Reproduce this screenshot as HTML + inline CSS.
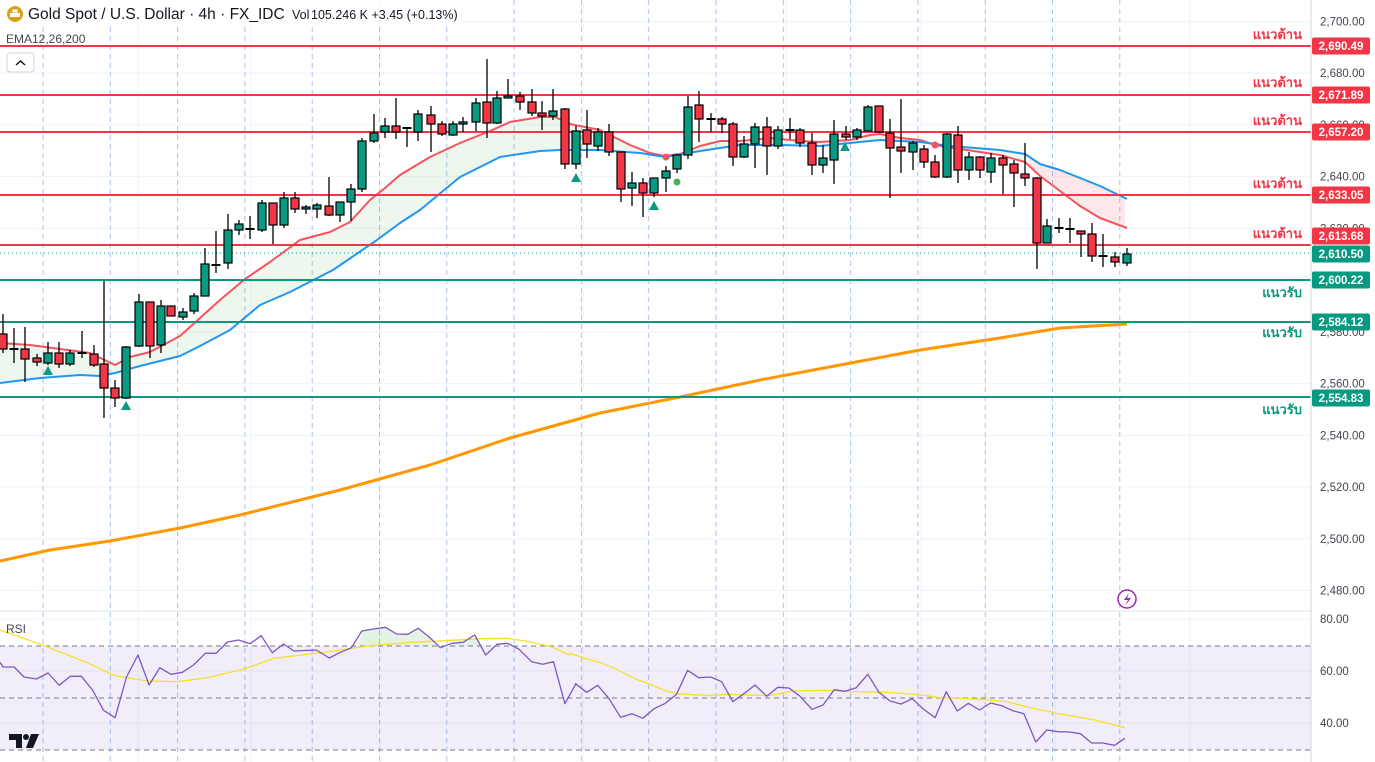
<!DOCTYPE html>
<html><head><meta charset="utf-8"><style>
body{margin:0;background:#fff;width:1375px;height:762px;overflow:hidden;font-family:"Liberation Sans","Noto Sans CJK SC",sans-serif}
svg{position:absolute;left:0;top:0}
</style></head><body>
<svg id="s" width="1375" height="762" xmlns="http://www.w3.org/2000/svg" font-family="Liberation Sans, sans-serif"></svg>
<script>
const S=document.getElementById('s');let h='';
function L(x1,y1,x2,y2,c,w,d){h+=`<line x1="${x1}" y1="${y1}" x2="${x2}" y2="${y2}" stroke="${c}" stroke-width="${w||1}" ${d?`stroke-dasharray="${d}"`:''}/>`;}
for(let p=2700;p>=2480;p-=20){const y=46+(2690.49-p)*2.587;L(0,y,1311,y,'#f0f3fa',1);}
[619,671,723].forEach(y=>L(0,y,1311,y,'#f0f3fa',1));
[138,251,380,583,786,921,1055,1190].forEach(x=>L(x,0,x,762,'#f0f3fa',1));
for(let k=0;k<17;k++){const x=43+67.3*k;L(x,0,x,762,'#a8c4f0',1,'5,4');}
h+=`<rect x="0" y="646" width="1311" height="104" fill="rgba(126,87,194,0.1)"/>`;
[646,698,750].forEach(y=>L(0,y,1311,y,'#787b86',1,'5,4'));
L(0,611,1311,611,'#e0e3eb',1);
const red=[[0,343],[30,345],[60,349],[90,353],[115,365],[130,357],[150,352],[180,336],[200,318],[220,300],[245,279],[270,262],[300,240],[330,232],[350,222],[370,200],[385,188],[400,175],[430,157],[460,143],[490,131],[510,122],[540,117],[555,117],[570,124],[600,130],[630,145],[650,153],[665,156],[680,154],[700,146],[720,141],[740,141],[770,138],[800,141],[820,142],[850,140],[870,135],[880,134],[900,138],[920,140],[935,145],[960,149],[1000,155],[1025,162],[1040,176],[1060,191],[1080,206],[1100,218],[1127,228]];
const blue=[[0,383],[40,378],[80,375],[100,376],[115,373],[140,366],[180,356],[200,346],[230,330],[260,305],[290,292],[333,270],[377,240],[400,223],[420,210],[460,177],[500,157],[540,151],[560,150],[600,150],[640,153],[665,157],[700,151],[740,145],[780,145],[820,146],[850,143],[880,140],[920,142],[950,146],[1000,150],[1025,154],[1040,164],[1060,170],[1080,178],[1100,186],[1127,199]];
function interp(a,x){for(let i=1;i<a.length;i++){if(x<=a[i][0]){const t=(x-a[i-1][0])/(a[i][0]-a[i-1][0]);return a[i-1][1]+t*(a[i][1]-a[i-1][1]);}}return a[a.length-1][1];}
function fill(x0,x1,c){let top=[],bot=[];for(let x=x0;x<=x1;x+=3){top.push(x+','+interp(red,x));bot.unshift(x+','+interp(blue,x));}h+=`<polygon points="${top.join(' ')} ${bot.join(' ')}" fill="${c}"/>`;}
fill(0,1029,'rgba(76,175,80,0.1)');fill(1029,1127,'rgba(242,54,69,0.12)');
const pl=(a,c,w)=>h+=`<polyline points="${a.map(p=>p.join(',')).join(' ')}" fill="none" stroke="${c}" stroke-width="${w}" stroke-linejoin="round"/>`;
pl(red,'#f7525f',2);pl(blue,'#2196f3',2);
pl([[0,561],[50,550],[110,541],[180,528],[240,515],[340,490],[430,465],[510,438],[600,413],[680,397],[760,380],[840,365],[920,350],[1000,338],[1060,328],[1127,324]],'#ff9800',3);
[[46,'#f23645','2,690.49'],[95,'#f23645','2,671.89'],[132,'#f23645','2,657.20'],[195,'#f23645','2,633.05'],[245,'#f23645','2,613.68'],[280,'#089981','2,600.22'],[322,'#089981','2,584.12'],[397,'#089981','2,554.83']].forEach(a=>L(0,a[0],1311,a[0],a[1],2));
L(0,253,1311,253,'#089981',1,'1,3');
const C=[[3,334,349,314,353,'r'],[14,349,349,328,363,'d'],[25,349,359,327,382,'r'],[37,358,362,354,366,'r'],[48,353,363,342,365,'g'],[59,353,364,342,368,'r'],[70,353,364,350,366,'g'],[82,353,353,331,358,'d'],[94,354,365,345,367,'r'],[104,364,388,281,418,'r'],[115,388,398,380,407,'r'],[126,347,398,346,399,'g'],[139,302,346,294,347,'g'],[150,302,346,302,358,'r'],[161,306,345,300,353,'g'],[171,306,316,306,316,'r'],[183,312,317,308,320,'g'],[194,296,311,293,314,'g'],[205,264,296,248,296,'g'],[216,265,265,231,273,'d'],[228,230,263,214,269,'g'],[239,224,230,220,235,'g'],[250,229,229,216,239,'d'],[262,203,230,200,232,'g'],[273,203,225,203,244,'r'],[284,198,225,192,228,'g'],[295,198,209,192,213,'r'],[306,207,209,205,214,'g'],[317,205,209,203,218,'g'],[329,206,215,177,216,'r'],[340,202,215,202,222,'g'],[351,189,202,184,221,'g'],[362,141,189,138,192,'g'],[374,133,141,114,143,'g'],[385,126,132,118,138,'g'],[396,126,132,98,139,'r'],[407,128,128,127,147,'d'],[418,114,132,110,141,'g'],[431,115,124,106,152,'r'],[442,124,134,121,136,'r'],[453,124,135,121,136,'g'],[463,122,124,117,132,'g'],[476,103,122,98,131,'g'],[487,102,123,59,138,'r'],[497,98,123,91,124,'g'],[508,96,98,79,98,'g'],[520,96,102,92,110,'r'],[532,102,113,89,116,'r'],[542,113,116,101,130,'r'],[553,111,116,89,120,'g'],[565,109,164,108,169,'r'],[576,131,164,126,169,'g'],[587,130,144,110,158,'r'],[598,132,146,128,151,'g'],[609,132,152,124,156,'r'],[621,152,189,152,202,'r'],[632,183,188,172,206,'g'],[643,183,193,178,217,'r'],[654,178,193,178,197,'g'],[666,171,178,166,192,'g'],[677,155,169,154,173,'g'],[688,107,155,96,159,'g'],[699,105,119,91,142,'r'],[711,119,119,113,132,'d'],[722,119,124,117,133,'r'],[733,124,157,122,166,'r'],[744,144,157,136,158,'g'],[755,127,144,123,168,'g'],[767,127,146,117,175,'r'],[778,130,146,126,149,'g'],[790,130,130,118,139,'d'],[800,130,143,128,147,'r'],[812,143,165,133,175,'r'],[823,158,165,145,173,'g'],[834,134,160,120,184,'g'],[846,134,137,126,140,'r'],[857,130,137,128,140,'g'],[868,107,131,105,131,'g'],[879,106,132,106,133,'r'],[890,133,148,119,198,'r'],[901,147,151,99,173,'r'],[913,143,152,141,170,'g'],[924,149,162,145,168,'r'],[935,162,177,155,178,'r'],[947,134,177,133,178,'g'],[958,135,170,126,183,'r'],[969,157,170,152,180,'g'],[980,157,170,156,178,'r'],[991,158,172,153,183,'g'],[1003,158,165,155,194,'r'],[1014,164,173,160,207,'r'],[1025,174,178,143,186,'r'],[1037,178,243,177,269,'r'],[1047,226,243,219,243,'g'],[1059,228,228,218,233,'d'],[1070,229,229,218,243,'d'],[1081,231,234,231,257,'r'],[1092,234,256,223,262,'r'],[1103,256,256,234,267,'d'],[1115,257,262,252,267,'r'],[1127,254,263,248,266,'g']];
C.forEach(c=>{const[x,t,b,hi,lo,k]=c;L(x,hi,x,lo,'#000',1.3);if(k=='d'){L(x-4.5,t,x+4.5,t,'#000',2);}else{h+=`<rect x="${x-4}" y="${t}" width="8" height="${Math.max(b-t,1.5)}" fill="${k=='g'?'#089981':'#f23645'}" stroke="#000" stroke-width="1.2"/>`;}});
[[48,370],[126,405],[576,177],[654,205],[845,146]].forEach(p=>h+=`<polygon points="${p[0]-5},${p[1]+5} ${p[0]+5},${p[1]+5} ${p[0]},${p[1]-4}" fill="#089981"/>`);
h+=`<circle cx="666" cy="157" r="3.5" fill="#f7525f"/><circle cx="935" cy="145" r="3.5" fill="#f7525f"/><circle cx="677" cy="182" r="3.5" fill="#4caf50"/>`;
const r6=[[0,172],[8,186],[38,186],[65,216],[98,222],[130,204],[160,241],[190,214],[220,214],[250,255],[280,316],[311,338],[342,216],[373,150],[403,240],[432,188],[462,208],[493,202],[523,180],[555,145],[584,145],[615,111],[645,105],[676,116],[706,92],[736,143],[766,117],[795,138],[855,135],[890,159],[920,142],[950,128],[978,78],[1010,72],[1042,67],[1072,87],[1102,88],[1130,70],[1160,96],[1190,128],[1222,115],[1252,112],[1283,90],[1313,150],[1343,118],[1372,115],[1403,133],[1437,170],[1467,178],[1496,170],[1527,296],[1557,236]];
const r7=[[15,236],[45,262],[75,241],[105,280],[137,337],[167,326],[197,340],[227,311],[258,295],[288,268],[318,196],[348,218],[380,216],[410,230],[440,290],[470,266],[500,240],[532,274],[562,247],[592,249],[622,274],[654,313],[684,300],[714,254],[744,259],[774,248],[805,208],[835,262],[865,288],[895,297],[925,281],[955,312],[987,338],[1017,260],[1047,318],[1077,295],[1107,315],[1137,294],[1167,302],[1197,317],[1227,326],[1259,411],[1289,375],[1319,380],[1349,381],[1380,386],[1410,414],[1440,414],[1472,421],[1500,400]];
const k=2.703;
const rsi=r6.map(p=>[(p[0]/k).toFixed(1),(605+p[1]/3).toFixed(1)]).concat(r7.map(p=>[(570+p[0]/k).toFixed(1),(605+p[1]/3).toFixed(1)]));
const y6=[[0,75],[120,122],[240,175],[310,212],[400,228],[480,230],[560,218],[660,192],[740,160],[800,152],[900,138],[1000,122],[1100,113],[1200,107],[1300,101],[1370,100],[1420,108],[1490,125],[1540,150]];
const y7=[[0,145],[40,160],[80,172],[120,190],[170,218],[220,240],[260,258],[290,266],[380,272],[420,268],[540,272],[600,258],[700,256],[760,260],[860,262],[950,270],[1000,278],[1100,282],[1180,290],[1260,312],[1340,330],[1410,343],[1500,368]];
const ma=y6.map(p=>[(p[0]/k).toFixed(1),(605+p[1]/3).toFixed(1)]).concat(y7.map(p=>[(570+p[0]/k).toFixed(1),(605+p[1]/3).toFixed(1)]));
h+=`<polygon points="358,646 362,631 374,629 386,627 397,634 408,634 418,628 429,637 435,646" fill="rgba(76,175,80,0.15)"/><polygon points="449,646 458,641 475,638 481,646" fill="rgba(76,175,80,0.15)"/>`;
pl(ma,'#f7e02a',1.3);pl(rsi,'#7e57c2',1.3);
L(1311,0,1311,762,'#d1d4dc',1);
for(let p=2700;p>=2480;p-=20){const y=46+(2690.49-p)*2.587;h+=`<text x="1320" y="${y+4}" font-size="11.5" fill="#434651">${p.toLocaleString('en-US')}.00</text>`;}
[[619,'80.00'],[671,'60.00'],[723,'40.00']].forEach(a=>h+=`<text x="1320" y="${a[0]+4}" font-size="11.5" fill="#434651">${a[1]}</text>`);
[[46,'#f23645','2,690.49'],[95,'#f23645','2,671.89'],[132,'#f23645','2,657.20'],[195,'#f23645','2,633.05'],[236,'#f23645','2,613.68'],[254,'#089981','2,610.50'],[280,'#089981','2,600.22'],[322,'#089981','2,584.12'],[398,'#089981','2,554.83']].forEach(a=>{h+=`<rect x="1312" y="${a[0]-8.5}" width="58" height="17" rx="2" fill="${a[1]}"/><text x="1341" y="${a[0]+4}" font-size="11.5" font-weight="bold" fill="#fff" text-anchor="middle">${a[2]}</text>`;});
[34,82,120,183,233].forEach(y=>h+=`<text x="1302" y="${y+5}" font-size="13" font-weight="bold" fill="#f23645" text-anchor="end" font-family="Liberation Sans, Noto Sans CJK SC, sans-serif">แนวต้าน</text>`);
[292,332,409].forEach(y=>h+=`<text x="1302" y="${y+5}" font-size="13" font-weight="bold" fill="#089981" text-anchor="end" font-family="Liberation Sans, Noto Sans CJK SC, sans-serif">แนวรับ</text>`);
h+=`<rect x="0" y="0" width="462" height="24" fill="rgba(255,255,255,0.9)"/><circle cx="15" cy="14" r="8" fill="#d9a21b"/><rect x="10" y="13" width="10" height="4" fill="#fff"/><rect x="12.5" y="9.5" width="5" height="3" fill="#fff"/>`;
h+=`<text x="28" y="19" font-size="15.5" fill="#131722">Gold Spot / U.S. Dollar · 4h · FX_IDC</text><text x="292" y="19" font-size="12.5" fill="#131722">Vol</text><text x="311" y="19" font-size="12.5" fill="#131722">105.246 K  +3.45 (+0.13%)</text>`;
h+=`<text x="6" y="43" font-size="12" fill="#434651">EMA12,26,200</text><rect x="7" y="53" width="27" height="19" rx="3" fill="#fff" stroke="#d1d4dc"/><path d="M16 65 L20.5 61 L25 65" fill="none" stroke="#131722" stroke-width="1.5"/>`;
h+=`<text x="6" y="633" font-size="12" fill="#434651">RSI</text>`;
h+=`<circle cx="1127" cy="599" r="9" fill="#fff" stroke="#9c27b0" stroke-width="1.5"/><path d="M1129 593 L1124 600 L1128 600 L1125 606 L1131 598 L1127 598 Z" fill="#9c27b0"/>`;
h+=`<path d="M9 734 H22 V748 H16 V740 H9 Z" fill="#131722"/><circle cx="26" cy="737" r="3" fill="#131722"/><path d="M31 734 H39 L33 748 H26 Z" fill="#131722"/>`;
S.innerHTML=h;
</script>
</body></html>
